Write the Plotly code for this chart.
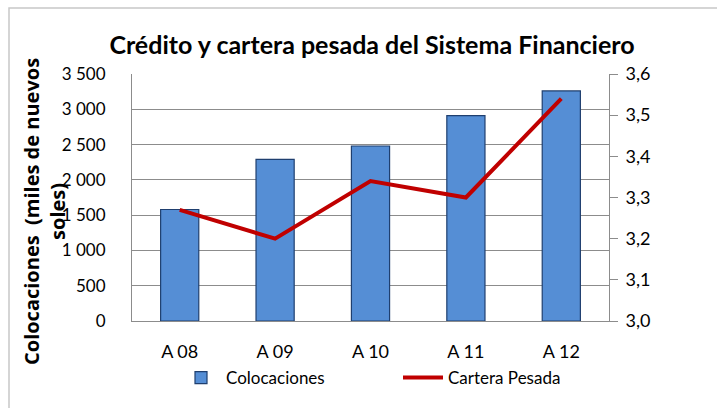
import plotly.graph_objects as go

categories = ["A 08", "A 09", "A 10", "A 11", "A 12"]
colocaciones = [1580, 2290, 2480, 2910, 3260]
cartera_pesada = [3.27, 3.20, 3.34, 3.30, 3.54]
left_ticks = [0, 500, 1000, 1500, 2000, 2500, 3000, 3500]
left_ticktext = ["0", "500", "1 000", "1 500", "2 000", "2 500", "3 000", "3 500"]
right_ticks = [3.0, 3.1, 3.2, 3.3, 3.4, 3.5, 3.6]
right_ticktext = ["3,0", "3,1", "3,2", "3,3", "3,4", "3,5", "3,6"]

FONT = "Lato"
GRID = "#8c8c8c"

W, H = 717, 408
L, R, T, B = 132, 108, 74, 87
pw, ph = W - L - R, H - T - B

def px(x):
    return (x - L) / pw

def py(y):
    return (H - B - y) / ph

fig = go.Figure()
fig.add_trace(go.Bar(
    x=categories, y=colocaciones, name="Colocaciones",
    marker=dict(color="#558ED5", line=dict(color="#1F3F6F", width=1.2)),
    yaxis="y", legend="legend",
))
fig.add_trace(go.Scatter(
    x=categories, y=cartera_pesada, name="Cartera Pesada", mode="lines",
    line=dict(color="#C00000", width=4),
    yaxis="y2", legend="legend2",
))

legend_common = dict(orientation="h", yanchor="middle", xanchor="left",
                     font=dict(size=17), bgcolor="rgba(0,0,0,0)",
                     itemwidth=40, tracegroupgap=0)

fig.update_layout(
    width=W, height=H,
    margin=dict(l=L, r=R, t=T, b=B, autoexpand=False),
    paper_bgcolor="white", plot_bgcolor="white",
    font=dict(family=FONT, size=17, color="#000000"),
    bargap=0.6,
    showlegend=True,
    title=dict(text="<b>Crédito y cartera pesada del Sistema Financiero</b>",
               x=372 / W, xanchor="center", y=1 - 45 / H, yanchor="middle",
               font=dict(family=FONT, size=25, color="#000000")),
    xaxis=dict(showgrid=False, showline=True, linecolor=GRID, linewidth=1,
               ticks="", tickfont=dict(size=18), ticklabelstandoff=14,
               automargin=False),
    yaxis=dict(range=[0, 3500], tickvals=left_ticks, ticktext=left_ticktext,
               showgrid=True, gridcolor=GRID, gridwidth=1,
               showline=True, linecolor=GRID, linewidth=1, ticks="",
               tickfont=dict(size=17), ticklabelstandoff=22, zeroline=False,
               automargin=False),
    yaxis2=dict(range=[3.0, 3.6], tickvals=right_ticks, ticktext=right_ticktext,
                overlaying="y", side="right", showgrid=False,
                showline=True, linecolor=GRID, linewidth=1,
                ticks="outside", ticklen=8, tickcolor=GRID,
                tickfont=dict(size=18), zeroline=False, automargin=False,
                ticklabelstandoff=4),
    legend=dict(x=px(176), y=py(378), **legend_common),
    legend2=dict(x=px(398), y=py(378), **legend_common),
    annotations=[dict(text="<b>Colocaciones  (miles de nuevos<br>soles)</b>",
                      xref="paper", yref="paper", x=px(44), y=py(212),
                      xanchor="center", yanchor="middle", textangle=-90,
                      showarrow=False, font=dict(family="Open Sans", size=20, color="#000000"),
                      align="center")],
    shapes=[dict(type="rect", xref="paper", yref="paper",
                 x0=px(9), x1=px(722), y0=py(412), y1=py(8),
                 line=dict(color="#c8c8c8", width=1.5), fillcolor="rgba(0,0,0,0)",
                 layer="below")],
)

fig.write_html("out.html", config={"displayModeBar": False},
               post_script="document.body.style.margin='0';")
